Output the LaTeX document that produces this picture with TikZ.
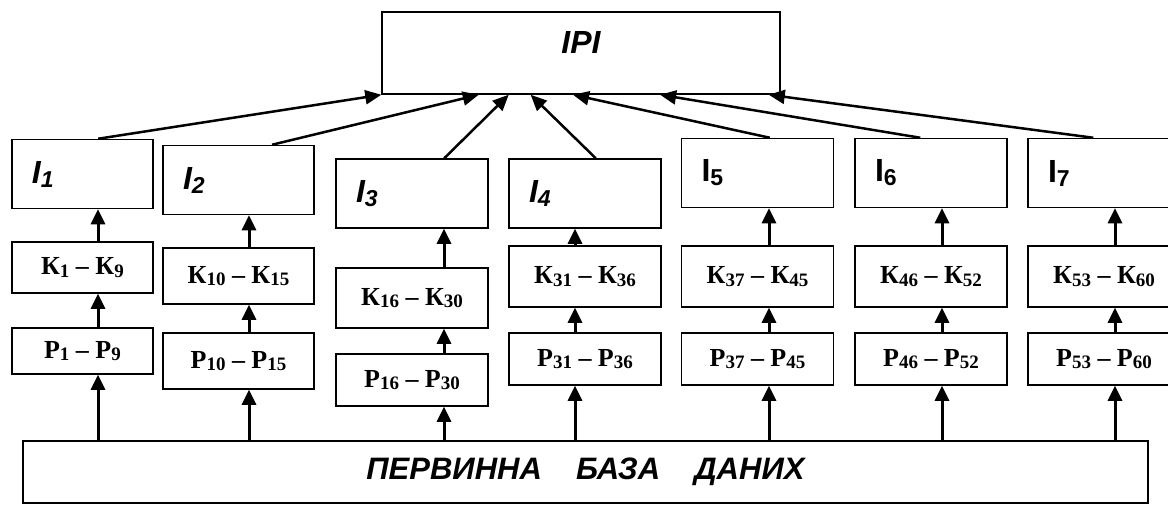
\documentclass[tikz,border=0pt]{standalone}
\usepackage{fontspec}
\setmainfont{Liberation Serif}
\newfontfamily\arialfont{Liberation Sans}
\usetikzlibrary{arrows.meta,calc}
\newcommand{\lo}[1]{\raisebox{-1.4pt}{\fontsize{9.5}{10}\selectfont #1}}
\newcommand{\isub}[1]{\raisebox{-2pt}{\fontsize{11.5}{12}\selectfont #1}}

\begin{document}
\begin{tikzpicture}[
  x=0.5pt,y=-0.5pt,
  box/.style={draw,line width=0.75pt,inner sep=0pt,minimum width=76pt},
  ibox/.style={box,minimum height=34.5pt,text width=56pt,align=left,font=\arialfont\fontsize{16}{16}\selectfont\bfseries},
  kbox/.style={box,minimum height=30.5pt,font=\fontsize{13}{14}\selectfont\bfseries},
  pbox/.style={box,minimum height=26pt,font=\fontsize{13}{14}\selectfont\bfseries},
  arr/.style={-{Triangle[length=7.5pt,width=7pt]},line width=1.5pt},
  link/.style={-{Triangle[length=8pt,width=7pt]},line width=1.25pt}
]
\useasboundingbox (0,0) rectangle (1168,504);
% top and bottom
\node[box,minimum width=199pt,minimum height=41pt,text depth=11pt,font=\arialfont\fontsize{16}{16}\selectfont\bfseries\itshape] (ipi) at (581,53) {IPI};
\node[box,minimum width=562.5pt,minimum height=31pt,font=\arialfont\fontsize{15.5}{16}\selectfont\bfseries\itshape] (db) at (585.5,472) {ПЕРВИННА\hspace{1.1em}БАЗА\hspace{1.1em}ДАНИХ};
% columns
\node[ibox,minimum width=70.5pt,text width=50.5pt] (i1) at (82.5,174) {\itshape I\isub{1}};
\node[kbox,minimum width=70.5pt,minimum height=25.5pt] (k1) at (82.5,267.5) {К\lo{1} – К\lo{9}};
\node[pbox,minimum width=70.5pt,minimum height=23pt] (p1) at (82.5,351) {Р\lo{1} – Р\lo{9}};
\node[ibox,minimum width=75.5pt,text width=55.5pt] (i2) at (238.5,180) {\itshape I\isub{2}};
\node[kbox,minimum width=75.5pt,minimum height=28pt] (k2) at (238.5,276) {К\lo{10} – К\lo{15}};
\node[pbox,minimum width=75.5pt,minimum height=28pt] (p2) at (238.5,361) {Р\lo{10} – Р\lo{15}};
\node[ibox] (i3) at (412,193.5) {\itshape I\isub{3}};
\node[kbox,minimum height=30pt] (k3) at (412,298) {К\lo{16} – К\lo{30}};
\node[pbox] (p3) at (412,380) {Р\lo{16} – Р\lo{30}};
\node[ibox] (i4) at (585,193.5) {\itshape I\isub{4}};
\node[kbox] (k4) at (585,276.5) {К\lo{31} – К\lo{36}};
\node[pbox] (p4) at (585,359) {Р\lo{31} – Р\lo{36}};
\node[ibox] (i5) at (757.5,173) {I\isub{5}};
\node[kbox] (k5) at (757.5,276.5) {К\lo{37} – К\lo{45}};
\node[pbox] (p5) at (757.5,359) {Р\lo{37} – Р\lo{45}};
\node[ibox] (i6) at (931,173) {I\isub{6}};
\node[kbox] (k6) at (931,276.5) {К\lo{46} – К\lo{52}};
\node[pbox] (p6) at (931,359) {Р\lo{46} – Р\lo{52}};
\node[ibox] (i7) at (1104,173) {I\isub{7}};
\node[kbox] (k7) at (1104,276.5) {К\lo{53} – К\lo{60}};
\node[pbox] (p7) at (1104,359) {Р\lo{53} – Р\lo{60}};
% arrow lines in each column
\coordinate (a1) at (98,0);
\coordinate (a2) at (249,0);
\coordinate (a3) at (444,0);
\coordinate (a4) at (575,0);
\coordinate (a5) at (769,0);
\coordinate (a6) at (942,0);
\coordinate (a7) at (1115,0);
\draw[arr] (db.north -| a1) -- (p1.south -| a1);
\draw[arr] (p1.north -| a1) -- (k1.south -| a1);
\draw[arr] (k1.north -| a1) -- (i1.south -| a1);
\draw[arr] (db.north -| a2) -- (p2.south -| a2);
\draw[arr] (p2.north -| a2) -- (k2.south -| a2);
\draw[arr] (k2.north -| a2) -- (i2.south -| a2);
\draw[arr] (db.north -| a3) -- (p3.south -| a3);
\draw[arr] (p3.north -| a3) -- (k3.south -| a3);
\draw[arr] (k3.north -| a3) -- (i3.south -| a3);
\draw[arr] (db.north -| a4) -- (p4.south -| a4);
\draw[arr] (p4.north -| a4) -- (k4.south -| a4);
\draw[arr] (k4.north -| a4) -- (i4.south -| a4);
\draw[arr] (db.north -| a5) -- (p5.south -| a5);
\draw[arr] (p5.north -| a5) -- (k5.south -| a5);
\draw[arr] (k5.north -| a5) -- (i5.south -| a5);
\draw[arr] (db.north -| a6) -- (p6.south -| a6);
\draw[arr] (p6.north -| a6) -- (k6.south -| a6);
\draw[arr] (k6.north -| a6) -- (i6.south -| a6);
\draw[arr] (db.north -| a7) -- (p7.south -| a7);
\draw[arr] (p7.north -| a7) -- (k7.south -| a7);
\draw[arr] (k7.north -| a7) -- (i7.south -| a7);
% links up to IPI
\draw[link] ($(i1.north west)!0.61!(i1.north east)$) -- (ipi.south west);
\draw[link] ($(i2.north west)!0.72!(i2.north east)$) -- ($(ipi.south west)!0.244!(ipi.south east)$);
\draw[link] ($(i3.north west)!0.71!(i3.north east)$) -- ($(ipi.south west)!0.319!(ipi.south east)$);
\draw[link] ($(i4.north west)!0.57!(i4.north east)$) -- ($(ipi.south west)!0.374!(ipi.south east)$);
\draw[link] ($(i5.north west)!0.58!(i5.north east)$) -- ($(ipi.south west)!0.48!(ipi.south east)$);
\draw[link] ($(i6.north west)!0.43!(i6.north east)$) -- ($(ipi.south west)!0.698!(ipi.south east)$);
\draw[link] ($(i7.north west)!0.43!(i7.north east)$) -- ($(ipi.south west)!0.97!(ipi.south east)$);
\end{tikzpicture}
\end{document}
